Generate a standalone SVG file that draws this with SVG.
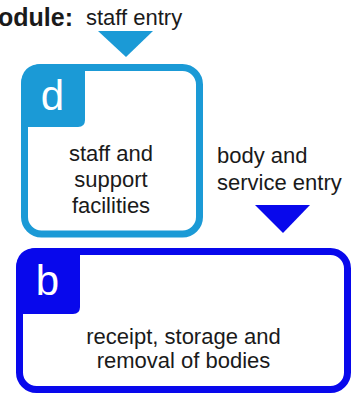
<svg xmlns="http://www.w3.org/2000/svg" width="352" height="396" viewBox="0 0 352 396">
  <style>
    text { font-family: "Liberation Sans", Arial, sans-serif; fill: #1a1a1a; font-size: 22px; }
    .title { font-weight: bold; font-size: 25px; }
    .mid { text-anchor: middle; }
    .tag { fill: #ffffff; font-size: 42px; text-anchor: middle; }
    .frame { fill: #ffffff; stroke-width: 7; }
    .staff { stroke: #1b9ad6; }
    .staffFill { fill: #1b9ad6; }
    .body { stroke: #0808ec; }
    .bodyFill { fill: #0808ec; }
  </style>
  <rect width="352" height="396" fill="#ffffff"/>

  <text class="title" x="-2" y="26">odule:</text>

  <!-- entry markers -->
  <g id="connectors">
    <polygon class="staffFill" points="98,31 153,31 126,57"/>
    <polygon class="bodyFill" points="255,205 310,205 283,233"/>
  </g>
  <text x="86" y="25">staff entry</text>
  <text x="217" y="163">body and</text>
  <text x="217" y="190">service entry</text>

  <!-- d: staff and support facilities -->
  <g id="node-d">
    <rect class="frame staff" x="24.5" y="67.5" width="175" height="166.5" rx="17"/>
    <path class="staffFill" d="M21,127 L21,85 Q21,64 42,64 L85,64 L85,120 Q85,127 78,127 Z"/>
    <text class="tag" x="52.5" y="110">d</text>
    <text class="mid" x="111" y="161">staff and</text>
    <text class="mid" x="111" y="187">support</text>
    <text class="mid" x="111" y="213">facilities</text>
  </g>

  <!-- b: receipt, storage and removal of bodies -->
  <g id="node-b">
    <rect class="frame body" x="19.5" y="251.5" width="328" height="138" rx="17"/>
    <path class="bodyFill" d="M16,314 L16,269 Q16,248 37,248 L80,248 L80,307 Q80,314 73,314 Z"/>
    <text class="tag" x="47.5" y="295">b</text>
    <text class="mid" x="183.5" y="344">receipt, storage and</text>
    <text class="mid" x="183.5" y="368">removal of bodies</text>
  </g>
</svg>
